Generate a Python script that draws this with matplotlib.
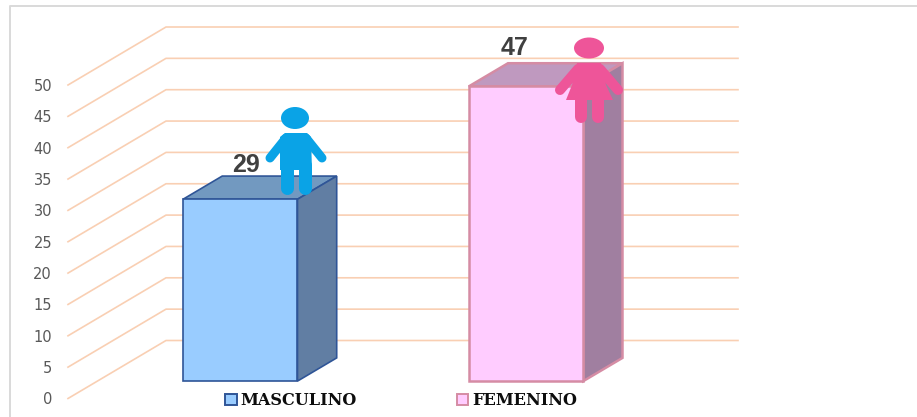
import numpy as np
import matplotlib
matplotlib.use('Agg')
from matplotlib import pyplot as plt
from matplotlib.patches import Ellipse, Patch, Polygon
from matplotlib.transforms import Affine2D

categories = ['MASCULINO', 'FEMENINO']
values = [29, 47]
tick_values = [0, 5, 10, 15, 20, 25, 30, 35, 40, 45, 50]

W, H = 917, 417
PX_PER_UNIT = 6.27
ZERO_Y = 398.5
LEFT = 68
# oblique projection of the floor, depth 0 = front edge, depth 1 = back wall
DEPTH_X = 98
DEPTH_Y = 58 / PX_PER_UNIT

front_cols = ['#99CCFF', '#FFCCFF']
top_cols = ['#7299C0', '#BF99BF']
side_cols = ['#617EA3', '#A07FA0']
edge_cols = ['#2F5597', '#D58CA4']
bar_lefts = [153.6, 439.4]
bar_width = 114.5
bar_depth = (0.30, 0.70)


def project(x, v, d):
    return x + d * DEPTH_X, v + d * DEPTH_Y


fig = plt.figure(figsize=(W / 100, H / 100), dpi=100)
ax = fig.add_axes([LEFT / W, 0, 1 - LEFT / W, 1])
ax.set_xlim(LEFT, W)
ax.set_ylim((ZERO_Y - H) / PX_PER_UNIT, ZERO_Y / PX_PER_UNIT)
for s in ax.spines.values():
    s.set_visible(False)
ax.set_xticks([])
ax.set_yticks(tick_values)
ax.tick_params(axis='y', length=0, pad=11.5, labelsize=10.5, labelcolor='#595959')

# y down pixel coords for the frame and the icons
px = Affine2D().scale(1, -1).translate(0, H)

fig.add_artist(plt.Line2D([10, 10, W], [H, 5.5, 5.5], transform=px, color='#D9D9D9', lw=1.4))

# gridlines: up the side wall then along the back wall
grid_col = '#F9CFB3'
for t in tick_values:
    x0, y0 = project(LEFT, t, 0)
    x1, y1 = project(LEFT, t, 1)
    ax.plot([x0, x1, 738], [y0, y1, y1], color=grid_col, lw=1.2, zorder=1, clip_on=False)

for i in range(len(values)):
    v = values[i]
    x0 = bar_lefts[i]
    x1 = x0 + bar_width
    d0, d1 = bar_depth
    fa = project(x0, 0, d0)
    fb = project(x1, 0, d0)
    fc = project(x1, v, d0)
    fd = project(x0, v, d0)
    bb = project(x1, 0, d1)
    bc = project(x1, v, d1)
    bd = project(x0, v, d1)
    lw = 1.2 if i == 0 else 1.8
    ax.add_patch(Polygon([fd, fc, bc, bd], fc=top_cols[i], ec=edge_cols[i], lw=lw, zorder=2))
    ax.add_patch(Polygon([fb, bb, bc, fc], fc=side_cols[i], ec=edge_cols[i], lw=lw, zorder=2))
    ax.add_patch(Polygon([fa, fb, fc, fd], fc=front_cols[i], ec=edge_cols[i], lw=lw, zorder=3))

# value labels sit above the top face
label_x = [246, 515]
label_lift = [8.24, 8.9]
for i in range(len(values)):
    ax.text(label_x[i], values[i] + label_lift[i], str(values[i]), ha='center', va='center',
            family='Liberation Sans', fontweight='bold', fontsize=18,
            color='#404040', zorder=6)


def limb(xs, ys, col, w):
    ax.plot(xs, ys, color=col, lw=w * 0.72, solid_capstyle='round', transform=px,
            zorder=5, clip_on=False)


# boy icon
boy = '#0AA3E6'
ax.add_patch(Ellipse((295, 118), 28, 22, fc=boy, ec='none', transform=px, zorder=5))
ax.add_patch(Polygon([(285, 133), (307, 133), (311, 137), (312, 170), (280, 170), (280, 137)],
                     fc=boy, ec='none', transform=px, zorder=5))
limb([286, 270], [138, 158], boy, 9)
limb([306, 322], [138, 158], boy, 9)
limb([287, 287], [165, 188], boy, 13)
limb([305, 305], [165, 188], boy, 13)

# girl icon
girl = '#EE5599'
ax.add_patch(Ellipse((589, 48), 30, 21, fc=girl, ec='none', transform=px, zorder=5))
ax.add_patch(Polygon([(577, 63), (601, 63), (606, 85), (613, 100), (566, 100), (572, 85)],
                     fc=girl, ec='none', transform=px, zorder=5))
limb([578, 560], [69, 90], girl, 10)
limb([600, 618], [69, 90], girl, 10)
limb([581, 581], [98, 117], girl, 12)
limb([597.5, 597.5], [98, 117], girl, 12)

handles = [Patch(fc=front_cols[i], ec=edge_cols[i], lw=1.4) for i in range(2)]
ax.legend(handles, categories, ncol=2, frameon=False, loc='center left',
          bbox_to_anchor=(225, 400.5), bbox_transform=px,
          prop={'family': 'DejaVu Serif', 'weight': 'bold', 'size': 11.6},
          labelcolor='#0D0D0D', handlelength=0.72, handleheight=0.62,
          handletextpad=0.25, columnspacing=6.2, borderpad=0, borderaxespad=0)

fig.savefig('out.png', dpi=100)
